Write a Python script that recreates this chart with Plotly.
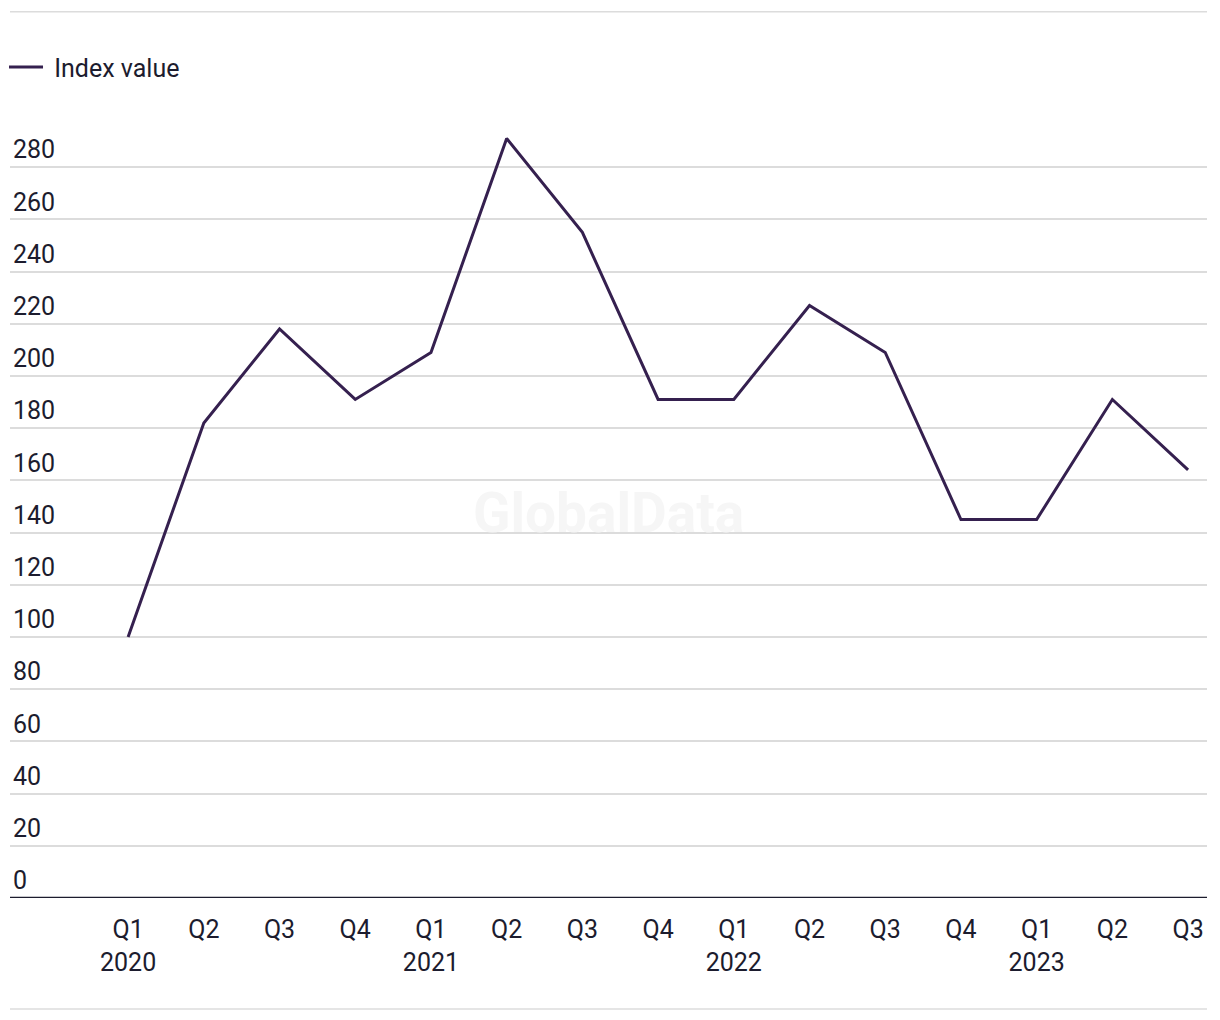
import plotly.graph_objects as go

quarters = ["Q1", "Q2", "Q3", "Q4", "Q1", "Q2", "Q3", "Q4", "Q1", "Q2", "Q3", "Q4", "Q1", "Q2", "Q3"]
years = ["2020", "", "", "", "2021", "", "", "", "2022", "", "", "", "2023", "", ""]
index_value = [100, 182, 218, 191, 209, 291, 255, 191, 191, 227, 209, 145, 145, 191, 164]

labels = [q + ("<br>" + y if y else "") for q, y in zip(quarters, years)]
xpos = list(range(len(index_value)))

ink = "#1c1c2e"
fig = go.Figure()
fig.add_trace(go.Scatter(x=xpos, y=index_value, mode="lines", name="\u00a0Index value",
                         line=dict(color="#35204f", width=3)))

fig.update_layout(
    width=1220, height=1020,
    margin=dict(l=2, r=21, t=120, b=130, autoexpand=False),
    paper_bgcolor="white", plot_bgcolor="white",
    font=dict(family="Roboto", size=25, color=ink),
    showlegend=True,
    legend=dict(x=-0.005, y=1.079, xanchor="left", yanchor="middle",
                orientation="h", font=dict(size=25, color=ink), itemwidth=34),
    xaxis=dict(range=[-1.56, 14.25], tickmode="array", tickvals=xpos, ticktext=labels,
               showgrid=False, zeroline=False, showline=False, ticks="",
               ticklabelstandoff=14, tickfont=dict(size=25, color=ink)),
    yaxis=dict(range=[0, 295], tickmode="linear", tick0=0, dtick=20,
               ticklabelposition="inside top", showgrid=True, gridcolor="#dcdcdc",
               gridwidth=1.5, zeroline=False, showline=False, ticks="",
               tickfont=dict(size=25, color=ink)),
    shapes=[
        dict(type="line", xref="paper", yref="y", x0=0, x1=1, y0=0, y1=0,
             line=dict(color=ink, width=2.5)),
        dict(type="line", xref="paper", yref="paper", x0=0, x1=1, y0=1.151, y1=1.151,
             line=dict(color="#dcdcdc", width=1.5)),
        dict(type="line", xref="paper", yref="paper", x0=0, x1=1, y0=-0.144, y1=-0.144,
             line=dict(color="#dcdcdc", width=1.5)),
    ],
    annotations=[
        dict(text="<b>GlobalData</b>", x=0.5, y=0.5, xref="paper", yref="paper",
             showarrow=False, font=dict(size=55, color="#f6f6f6", family="Roboto")),
    ],
)

fig.write_html("out.html")
